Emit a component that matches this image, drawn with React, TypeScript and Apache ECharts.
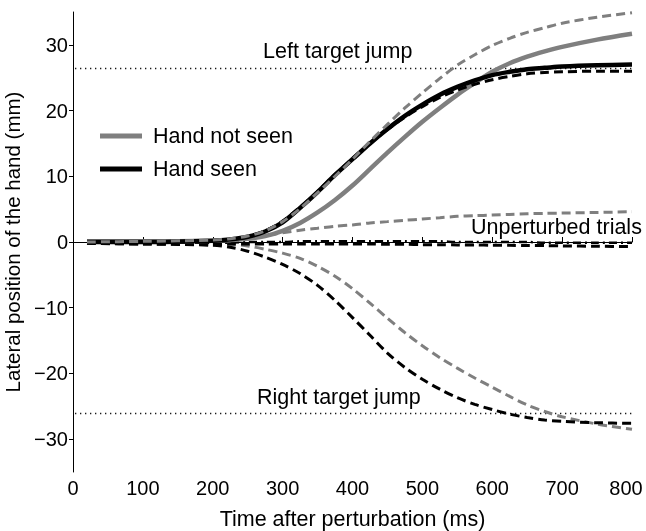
import React, { useEffect, useRef } from "react";
import * as echarts from "echarts";

const times = [20, 100, 200, 225, 250, 275, 300, 325, 350, 375, 400, 425, 450, 475, 500, 525, 550, 575, 600, 625, 650, 675, 700, 750, 800];

const handNotSeenLeft = [0.1, 0.1, 0.2, 0.3, 0.5, 0.9, 1.7, 2.9, 4.5, 6.4, 8.6, 11.1, 13.6, 16.0, 18.3, 20.4, 22.4, 24.2, 25.9, 27.2, 28.2, 29.0, 29.7, 30.8, 31.7];
const handSeenLeft = [0, 0, 0.2, 0.4, 0.8, 1.6, 3.0, 5.2, 7.6, 10.2, 12.6, 15.0, 17.2, 19.2, 20.9, 22.4, 23.6, 24.6, 25.4, 25.9, 26.3, 26.5, 26.7, 26.9, 27.0];
const grayDashedLeft = [0, 0.1, 0.3, 0.5, 0.9, 1.7, 3.1, 5.1, 7.5, 10.0, 12.6, 15.3, 17.9, 20.4, 22.7, 24.9, 26.9, 28.5, 29.9, 31.0, 31.9, 32.6, 33.3, 34.2, 34.9];
const blackDashedLeft = [0, 0, 0.2, 0.4, 0.8, 1.7, 3.2, 5.3, 7.7, 10.3, 12.7, 15.0, 17.1, 19.0, 20.6, 22.0, 23.1, 24.0, 24.7, 25.2, 25.6, 25.8, 25.9, 26.0, 26.0];
const grayDashedUnpert = [0, 0.1, 0.2, 0.4, 0.7, 1.0, 1.4, 1.8, 2.1, 2.4, 2.6, 2.9, 3.1, 3.3, 3.5, 3.7, 3.9, 4.0, 4.1, 4.2, 4.3, 4.35, 4.4, 4.5, 4.6];
const blackDashDotUnpert = [-0.1, -0.1, -0.1, -0.1, 0, 0, 0, 0.1, 0.1, 0.1, 0.1, 0.1, 0.1, 0.1, 0.1, 0.1, 0, 0, 0, 0, 0, -0.1, -0.1, -0.1, -0.1];
const blackDashedUnpert = [-0.2, -0.3, -0.3, -0.3, -0.3, -0.3, -0.3, -0.3, -0.3, -0.3, -0.3, -0.3, -0.35, -0.35, -0.4, -0.4, -0.45, -0.45, -0.5, -0.5, -0.55, -0.55, -0.6, -0.65, -0.7];
const blackDashedRight = [-0.2, -0.3, -0.5, -0.8, -1.4, -2.3, -3.4, -4.8, -6.6, -8.9, -11.5, -14.2, -16.9, -19.1, -20.9, -22.4, -23.7, -24.7, -25.5, -26.2, -26.7, -27.1, -27.3, -27.5, -27.6];
const grayDashedRight = [0, 0, -0.1, -0.3, -0.6, -1.1, -1.7, -2.5, -3.7, -5.2, -7.1, -9.3, -11.6, -13.8, -15.8, -17.6, -19.2, -20.7, -22.1, -23.5, -24.8, -25.8, -26.6, -27.7, -28.5];

const targetRange = [3, 800];
const leftTarget = 26.4;
const rightTarget = -26.1;

const xTicks = [0, 800, 100];
const yTickLabels = [-30, -20, -10, 0, 10, 20, 30];

const GRAY = "#7f7f7f";
const FONT = "Liberation Sans";
const FS = 21.5;
const TFS = 20;

const pairs = (vals: number[]) => times.map((t, i) => [t, vals[i]]);
const minus = (v: number) => String(v).replace("-", "\u2212");

export default function App() {
  const ref = useRef<HTMLDivElement>(null);
  useEffect(() => {
    if (!ref.current) return;
    const chart = echarts.init(ref.current, null, { renderer: "svg" });
    const line = (name: string, vals: number[], color: string, width: number, type: any, z = 2) => ({
      name,
      type: "line",
      data: pairs(vals),
      smooth: 0.3,
      showSymbol: false,
      symbol: "none",
      z,
      lineStyle: { color, width, type, cap: "butt" },
      itemStyle: { color },
    });
    const target = (lvl: number) => ({
      type: "line",
      data: targetRange.map((t) => [t, lvl]),
      showSymbol: false,
      symbol: "none",
      silent: true,
      z: 1,
      lineStyle: { color: "#000", width: 1.5, type: [1.2, 3.8] },
    });
    chart.setOption({
      animation: false,
      textStyle: { fontFamily: FONT },
      grid: { left: 73, right: 14, top: 12, bottom: 59, containLabel: false, outerBoundsMode: "none" },
      legend: {
        left: 95,
        top: 119,
        orient: "vertical",
        itemWidth: 42,
        itemHeight: 5,
        itemGap: 9,
        icon: "rect",
        data: ["Hand not seen", "Hand seen"],
        textStyle: { fontSize: FS, color: "#000", fontFamily: FONT, lineHeight: 24, padding: [0, 0, 0, 6] },
      },
      xAxis: {
        type: "value",
        min: xTicks[0],
        max: xTicks[1],
        interval: xTicks[2],
        name: "Time after perturbation (ms)",
        nameLocation: "middle",
        nameGap: 36,
        nameTextStyle: { fontSize: FS, color: "#000", fontFamily: FONT },
        axisLine: { lineStyle: { color: "#000", width: 1 } },
        axisTick: { inside: true, length: 5, lineStyle: { color: "#000" } },
        axisLabel: {
          fontSize: TFS,
          color: "#000",
          margin: 6,
          fontFamily: FONT,
          formatter: (v: number) => (v === xTicks[1] ? "{m|" + v + "}" : String(v)),
          rich: { m: { fontSize: TFS, color: "#000", fontFamily: FONT, padding: [0, 12, 0, 0] } },
        },
        splitLine: { show: false },
      },
      yAxis: {
        type: "value",
        min: -35,
        max: 35,
        name: "Lateral position of the hand (mm)",
        nameLocation: "middle",
        nameGap: 36,
        nameTextStyle: { fontSize: 20.5, color: "#000", fontFamily: FONT },
        axisLine: { show: true, lineStyle: { color: "#000", width: 1 } },
        axisTick: { show: true, inside: false, length: 4, customValues: yTickLabels, lineStyle: { color: "#000" } },
        axisLabel: { fontSize: TFS, color: "#000", margin: 5, customValues: yTickLabels, fontFamily: FONT, formatter: minus },
        splitLine: { show: false },
      },
      graphic: [
        { type: "text", left: 263, top: 40, style: { text: "Left target jump", fontSize: FS, fill: "#000", fontFamily: FONT } },
        { type: "text", left: 471, top: 216, style: { text: "Unperturbed trials", fontSize: FS, fill: "#000", fontFamily: FONT } },
        { type: "text", left: 257, top: 386, style: { text: "Right target jump", fontSize: FS, fill: "#000", fontFamily: FONT } },
      ],
      series: [
        target(leftTarget),
        target(rightTarget),
        line("gdU", grayDashedUnpert, GRAY, 3, [9, 5], 3),
        line("gdR", grayDashedRight, GRAY, 3, [9, 5], 3),
        line("bdU", blackDashedUnpert, "#000", 3, [9, 5], 3),
        line("bddU", blackDashDotUnpert, "#000", 2.5, [8, 4, 2, 4], 3),
        line("bdR", blackDashedRight, "#000", 3, [9, 5], 3),
        line("Hand not seen", handNotSeenLeft, GRAY, 4.5, "solid", 4),
        line("Hand seen", handSeenLeft, "#000", 4.5, "solid", 5),
        line("bdL", blackDashedLeft, "#000", 3, [9, 5], 6),
        line("gdL", grayDashedLeft, GRAY, 3, [9, 5], 6),
      ],
    });
    return () => chart.dispose();
  }, []);
  return <div ref={ref} style={{ position: "fixed", left: 0, top: 0, width: 646, height: 531 }} />;
}
